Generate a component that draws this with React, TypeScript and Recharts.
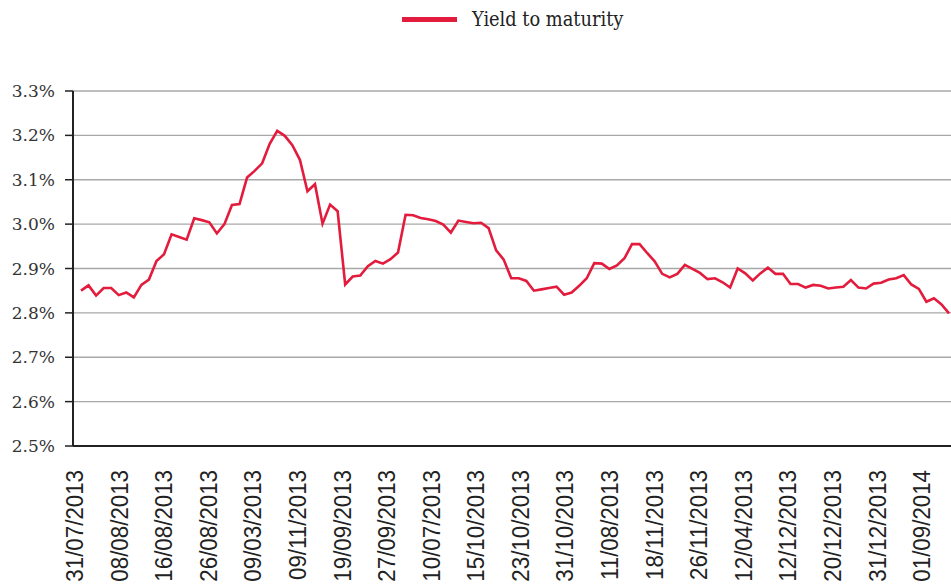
import { LineChart, Line, XAxis, YAxis, CartesianGrid } from "recharts";

// yield to maturity, %, one value per trading day
const ytm = [
  2.85, 2.862, 2.839, 2.856, 2.856, 2.84, 2.846, 2.835, 2.863, 2.875,
  2.917, 2.932, 2.977, 2.971, 2.965, 3.013, 3.009, 3.004, 2.979, 3.0,
  3.043, 3.045, 3.105, 3.12, 3.137, 3.181, 3.21, 3.199, 3.178, 3.145,
  3.074, 3.09, 3.001, 3.044, 3.029, 2.864, 2.882, 2.884, 2.905, 2.917,
  2.911, 2.921, 2.936, 3.021, 3.02, 3.014, 3.011, 3.007, 2.999, 2.981,
  3.008, 3.005, 3.002, 3.003, 2.991, 2.941, 2.92, 2.878, 2.878, 2.872,
  2.85, 2.853, 2.856, 2.859, 2.841, 2.846, 2.861, 2.878, 2.912, 2.911,
  2.899, 2.907, 2.923, 2.955, 2.955, 2.935, 2.916, 2.888, 2.88, 2.888,
  2.908, 2.899, 2.89, 2.876, 2.878, 2.869, 2.857, 2.9, 2.889, 2.873,
  2.889, 2.902, 2.888, 2.888, 2.865, 2.865, 2.857, 2.863, 2.861, 2.855,
  2.857, 2.859, 2.874, 2.857, 2.855, 2.866, 2.868, 2.875, 2.878, 2.885,
  2.864, 2.854, 2.825, 2.833, 2.819, 2.799,
];

const dateLabels = [
  "31/07/2013", "08/08/2013", "16/08/2013", "26/08/2013", "09/03/2013",
  "09/11/2013", "19/09/2013", "27/09/2013", "10/07/2013", "15/10/2013",
  "23/10/2013", "31/10/2013", "11/08/2013", "18/11/2013", "26/11/2013",
  "12/04/2013", "12/12/2013", "20/12/2013", "31/12/2013", "01/09/2014",
];
const labelSlots = dateLabels.map((_, k) => k);

const yTicks = [2.5, 2.6, 2.7, 2.8, 2.9, 3.0, 3.1, 3.2, 3.3];

const RED = "#e31b3c";

const data = ytm.map((v, i) => ({ i, ytm: v }));

function DateTick({ x, y, payload }: any) {
  return (
    <g transform={`translate(${x},${y + 24}) rotate(-90)`}>
      <text
        textAnchor="end"
        dy="0.36em"
        fontFamily="'Liberation Sans', Arial, sans-serif"
        fontSize={24}
        fill="#222"
        transform="scale(0.93,1)"
      >
        {dateLabels[payload.value]}
      </text>
    </g>
  );
}

export default function App() {
  return (
    <div style={{ position: "absolute", left: 0, top: 0, width: 951, height: 584 }}>
      <div
        style={{
          position: "absolute",
          left: 402,
          top: 5,
          height: 28,
          display: "flex",
          alignItems: "center",
          fontFamily: "'DejaVu Serif Condensed', 'DejaVu Serif', serif",
          fontSize: 19.8,
          color: "#222",
          whiteSpace: "nowrap",
        }}
      >
        <span style={{ display: "inline-block", width: 55, height: 5, background: RED, marginRight: 15 }} />
        <span>Yield to maturity</span>
      </div>
      <LineChart width={951} height={584} data={data} margin={{ top: 91, right: 0, bottom: 0, left: 0 }}>
        <CartesianGrid xAxisId="dates" vertical={false} stroke="#a8a8a8" strokeWidth={1.3} />
        <XAxis
          xAxisId="pts"
          dataKey="i"
          type="number"
          domain={[-1.06, 115.26]}
          allowDataOverflow
          hide
        />
        <XAxis
          xAxisId="dates"
          dataKey="slot"
          type="number"
          domain={[-0.03, 19.66]}
          allowDataOverflow
          ticks={labelSlots}
          interval={0}
          height={138}
          tickLine={false}
          tickSize={0}
          tickMargin={0}
          axisLine={{ stroke: "#222", strokeWidth: 2 }}
          tick={<DateTick />}
        />
        <YAxis
          width={73}
          domain={[2.5, 3.3]}
          allowDataOverflow
          ticks={yTicks}
          interval={0}
          tickFormatter={(v: number) => `${v.toFixed(1)}%`}
          tick={{ fontFamily: "'DejaVu Serif', serif", fontSize: 17, fill: "#333" }}
          tickLine={{ stroke: "#222", strokeWidth: 1.5 }}
          tickSize={8}
          tickMargin={10}
          axisLine={{ stroke: "#222", strokeWidth: 2 }}
        />
        <Line
          xAxisId="pts"
          type="linear"
          dataKey="ytm"
          name="Yield to maturity"
          stroke={RED}
          strokeWidth={2.6}
          dot={false}
          isAnimationActive={false}
        />
      </LineChart>
    </div>
  );
}
